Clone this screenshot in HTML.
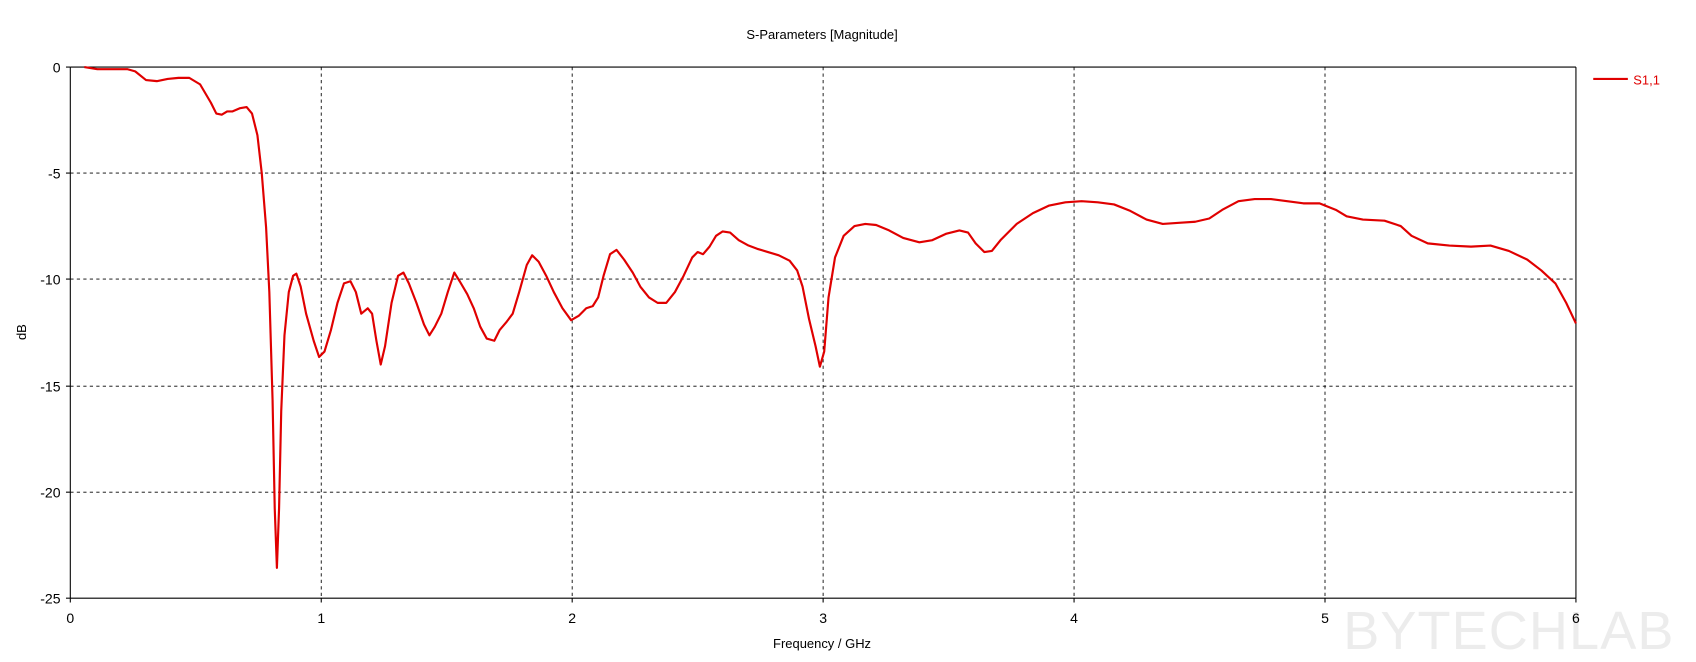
<!DOCTYPE html>
<html><head><meta charset="utf-8"><style>html,body{margin:0;padding:0;background:#fff}svg{display:block}</style></head><body>
<svg width="1696" height="662" viewBox="0 0 1568 612" preserveAspectRatio="none" xmlns="http://www.w3.org/2000/svg" font-family="Liberation Sans, sans-serif">
<rect width="1568" height="612" fill="#fff"/>
<text x="1395" y="600" font-size="50" fill="#ececec" text-anchor="middle" letter-spacing="1">BYTECHLAB</text>
<g stroke="#000" stroke-width="0.8" stroke-dasharray="3,3">
<line x1="297" y1="62" x2="297" y2="553"/><line x1="529" y1="62" x2="529" y2="553"/><line x1="761" y1="62" x2="761" y2="553"/><line x1="993" y1="62" x2="993" y2="553"/><line x1="1225" y1="62" x2="1225" y2="553"/>
<line x1="65" y1="160" x2="1457" y2="160"/><line x1="65" y1="258" x2="1457" y2="258"/><line x1="65" y1="357" x2="1457" y2="357"/><line x1="65" y1="455" x2="1457" y2="455"/>
</g>
<g stroke="#000" stroke-width="1" fill="none">
<line x1="65" y1="62" x2="1457" y2="62"/><line x1="65" y1="553" x2="1457" y2="553"/>
<line x1="65" y1="62" x2="65" y2="553"/><line x1="1457" y1="62" x2="1457" y2="553"/>
<line x1="61" y1="62" x2="65" y2="62"/><line x1="61" y1="160" x2="65" y2="160"/><line x1="61" y1="258" x2="65" y2="258"/><line x1="61" y1="357" x2="65" y2="357"/><line x1="61" y1="455" x2="65" y2="455"/><line x1="61" y1="553" x2="65" y2="553"/>
<line x1="65" y1="553" x2="65" y2="557"/><line x1="297" y1="553" x2="297" y2="557"/><line x1="529" y1="553" x2="529" y2="557"/><line x1="761" y1="553" x2="761" y2="557"/><line x1="993" y1="553" x2="993" y2="557"/><line x1="1225" y1="553" x2="1225" y2="557"/><line x1="1457" y1="553" x2="1457" y2="557"/>
</g>
<g font-size="13" fill="#000" text-anchor="end">
<text x="56" y="67">0</text><text x="56" y="165">-5</text><text x="56" y="263">-10</text><text x="56" y="362">-15</text><text x="56" y="460">-20</text><text x="56" y="558">-25</text>
</g>
<g font-size="13" fill="#000" text-anchor="middle">
<text x="65" y="576">0</text><text x="297" y="576">1</text><text x="529" y="576">2</text><text x="761" y="576">3</text><text x="993" y="576">4</text><text x="1225" y="576">5</text><text x="1457" y="576">6</text>
</g>
<text x="760" y="36" font-size="12" text-anchor="middle">S-Parameters [Magnitude]</text>
<text x="760" y="599" font-size="12" text-anchor="middle">Frequency / GHz</text>
<text x="24" y="307" font-size="12" text-anchor="middle" transform="rotate(-90 24 307)">dB</text>
<line x1="1473" y1="73" x2="1505" y2="73" stroke="#e00000" stroke-width="2"/>
<text x="1510" y="78" font-size="12" fill="#e00000">S1,1</text>
<polyline fill="none" stroke="#e00000" stroke-width="2" stroke-linejoin="round" points="78,62 90,64 100,64 118,64 125,66 135,74 145,75 155,73 165,72 175,72 185,78 195,95 200,105 205,106 210,103 215,103 222,100 228,99 233,105 238,125 242,160 246,210 249,270 252,370 254,470 256,525 258,470 260,380 263,310 267,270 271,255 274,253 278,265 283,290 290,315 295,330 300,325 306,305 312,280 318,262 324,260 329,270 334,290 340,285 344,290 348,315 352,337 356,320 362,280 368,255 373,252 378,262 385,280 392,300 397,310 402,302 408,290 414,270 420,252 425,260 432,272 438,285 444,302 450,313 457,315 462,305 468,298 474,290 480,270 487,245 492,236 498,242 505,255 512,270 520,285 528,296 535,292 542,285 548,283 553,275 558,255 564,235 570,231 577,240 585,252 592,265 600,275 608,280 616,280 624,270 632,255 640,238 645,233 650,235 656,228 662,218 668,214 675,215 683,222 692,227 700,230 710,233 720,236 730,241 737,250 742,265 748,295 754,320 758,339 762,325 766,275 772,238 780,218 790,209 800,207 810,208 822,213 835,220 850,224 862,222 875,216 887,213 895,215 902,225 910,233 917,232 925,222 940,207 955,197 970,190 985,187 1000,186 1015,187 1030,189 1045,195 1060,203 1075,207 1090,206 1105,205 1118,202 1130,194 1145,186 1160,184 1175,184 1190,186 1205,188 1220,188 1235,194 1245,200 1260,203 1280,204 1295,209 1305,218 1320,225 1340,227 1360,228 1378,227 1395,232 1412,240 1425,250 1438,262 1448,280 1457,299"/>
</svg>
</body></html>
